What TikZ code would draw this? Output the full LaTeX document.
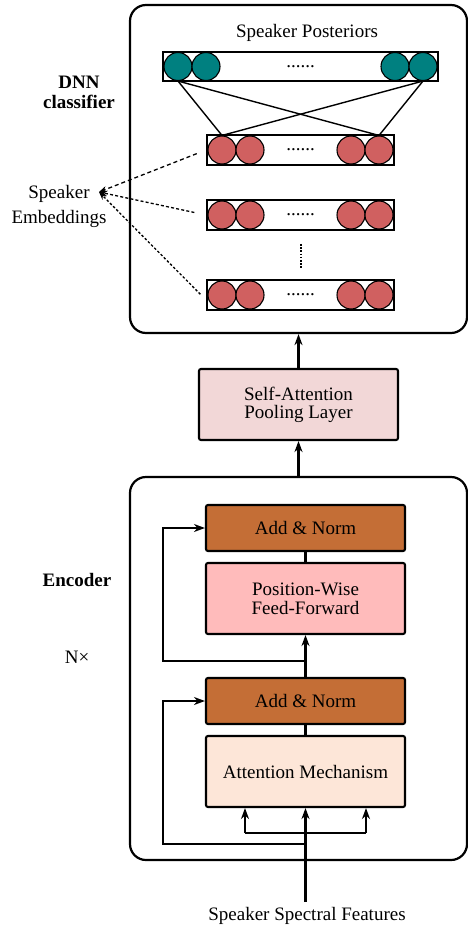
\documentclass[tikz,border=0pt]{standalone}
\usepackage{fontspec}
\setmainfont{Liberation Serif}
\usepackage{tikz}
\usetikzlibrary{positioning,calc,arrows.meta}
\definecolor{postcol}{RGB}{0,128,128}
\definecolor{embcol}{RGB}{208,96,96}
\definecolor{normcol}{RGB}{196,110,54}
\definecolor{ffcol}{RGB}{255,187,187}
\definecolor{attncol}{RGB}{253,230,216}
\definecolor{poolcol}{RGB}{242,215,215}
\newcommand*{\txt}[1]{\fontsize{19}{#1}\selectfont}

\begin{document}
\begin{tikzpicture}[x=1pt,y=-1pt,font=\txt{19},
  block/.style={draw,line width=2.2pt,rounded corners=16pt,minimum width=337pt},
  layer/.style={draw,line width=2.1pt,rounded corners=2pt,minimum width=199pt,align=center},
  bar/.style={draw,line width=1.9pt,inner sep=0pt},
  unit/.style={circle,draw,line width=1.1pt,minimum size=28pt,inner sep=0pt},
  arr/.style={line width=2.1pt,-{Stealth[length=11pt,width=8pt]}},
  embarr/.style={line width=1.3pt,-{Stealth[length=8pt,width=6pt]}}]
\useasboundingbox (0,0) rectangle (468,926);
% The two big rounded blocks
\node [block,minimum height=328pt] (dnn) at (298.5,169) {};
\node [block,minimum height=383pt] (enc) at (298.5,668.5) {};
% Pooling layer in between
\node [layer,fill=poolcol,minimum height=71pt,font=\txt{18}] (pool) at (298.5,404.5)
      {Self-Attention\\Pooling Layer};
\draw [arr] (enc.north -| pool) -- (pool.south);
\draw [arr] (pool.north) -- (dnn.south -| pool);
% Output layer with its four units
\node [bar,minimum width=275pt,minimum height=29pt] (post) at (300.5,66.5) {......};
\foreach \i/\x in {1/178,2/206,3/395,4/423}
  \node [unit,fill=postcol] (p\i) at (\x,66.5) {};
\node (posttitle) at (307,33) {Speaker Posteriors};
% Three embedding layers
\foreach \r/\y in {1/150,2/215,3/295} {
  \node [bar,minimum width=187pt,minimum height=30pt] (emb\r) at (300.5,\y) {......};
  \foreach \i/\x in {1/222,2/250,3/351,4/379}
    \node [unit,fill=embcol] (e\r\i) at (\x,\y) {};
}
\draw [line width=2pt,dash pattern=on 1.6pt off 1.6pt]
      ($(emb2.south)+(0,13)$) -- ($(emb3.north)+(0,-11)$);
% Full connection between the first embedding layer and the output
\draw [line width=1.4pt] (p1.south) -- (e11.north);
\draw [line width=1.4pt] (p1.south) -- (e14.north);
\draw [line width=1.4pt] (p4.south) -- (e11.north);
\draw [line width=1.4pt] (p4.south) -- (e14.north);
% Labels on the left
\node [font=\txt{20}\bfseries,align=center] (dnnlabel) at (79,92) {DNN\\classifier};
\node [font=\txt{25},align=center] (embtext) at (59,206) {Speaker\\Embeddings};
\coordinate (embtip) at (99,192);
\draw [embarr,dash pattern=on 4pt off 3pt,shorten <=10pt] (emb1.west) -- (embtip);
\draw [embarr,dash pattern=on 3pt off 2.2pt,shorten <=12pt] (emb2.west) -- (embtip);
\draw [embarr,dash pattern=on 2.5pt off 2pt,shorten <=8pt] ([yshift=-5pt]emb3.west) -- (embtip);
\node [font=\txt{19}\bfseries] (enclabel) at (77,580) {Encoder};
\node (nx) at (77,657) {N×};
% Encoder layers
\node [layer,fill=normcol,minimum height=46pt] (add2) at (305.5,528) {Add \& Norm};
\node [layer,fill=ffcol,minimum height=71pt] (ff) at (305.5,598.5) {Position-Wise\\Feed-Forward};
\node [layer,fill=normcol,minimum height=46pt] (add1) at (305.5,701) {Add \& Norm};
\node [layer,fill=attncol,minimum height=71pt] (attn) at (305.5,771.5) {Attention Mechanism};
\draw [line width=2.1pt] (attn) -- (add1);
\draw [arr] (add1) -- (ff);
\draw [line width=2.1pt] (ff) -- (add2);
% Input and its three branches
\coordinate (in) at (305.5,902);
\node (intext) at (307,916) {Speaker Spectral Features};
\draw [arr] (in) -- (attn.south);
\coordinate (split) at ($(attn.south)+(0,25)$);
\draw [line width=2.1pt] ($(split)+(-60.5,0)$) -- ($(split)+(60.5,0)$);
\draw [arr] ($(split)+(-60.5,0)$) -- ($(attn.south)+(-60.5,0)$);
\draw [arr] ($(split)+(60.5,0)$) -- ($(attn.south)+(60.5,0)$);
% Residual connections
\coordinate (res1) at ($(attn.south)+(0,36)$);
\coordinate (res2) at ($(add1.north)+(0,-16)$);
\draw [arr] (res1) -- ++(-142.5,0) |- (add1.west);
\draw [arr] (res2) -- ++(-142.5,0) |- (add2.west);
\end{tikzpicture}
\end{document}
